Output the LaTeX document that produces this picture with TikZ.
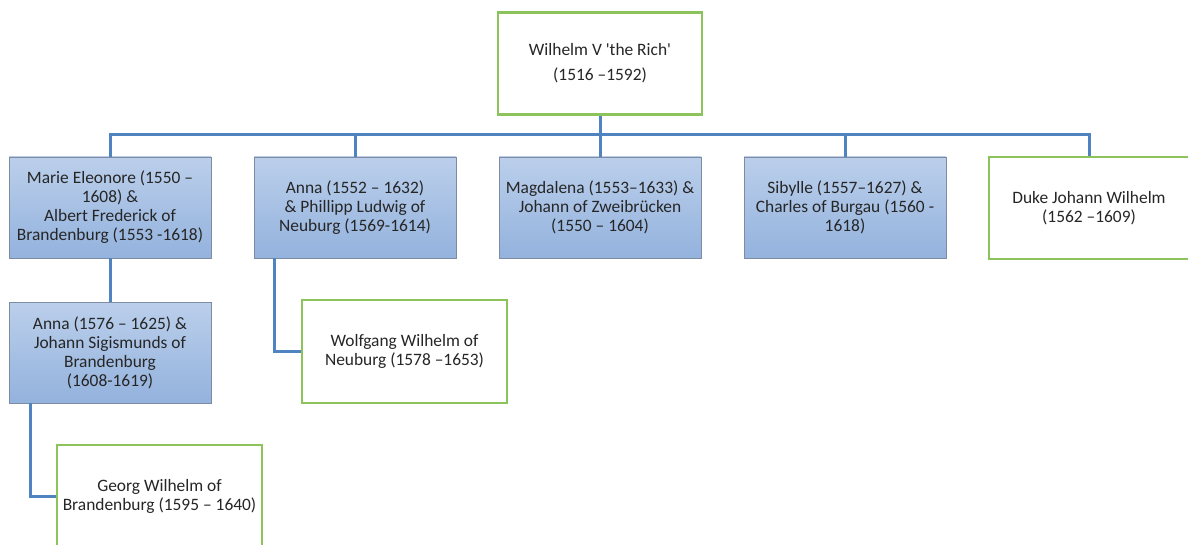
\documentclass[tikz,border=0pt]{standalone}
\usepackage{fontspec}
\setmainfont{Carlito}
\definecolor{bluetop}{HTML}{BBCFEB}
\definecolor{bluebot}{HTML}{93B2DD}
\definecolor{boxedge}{HTML}{7D8CA3}
\definecolor{grn}{HTML}{8CC35A}
\definecolor{lnk}{HTML}{4F84C0}
\definecolor{txt}{HTML}{262626}
\tikzset{
  basebox/.style={align=center, inner sep=0pt, text=txt,
    font=\fontsize{17.4}{19}\selectfont},
  bluebox/.style={basebox, draw=boxedge, line width=0.8pt,
    top color=bluetop, bottom color=bluebot,
    minimum width=202pt, minimum height=101pt},
  greenbox/.style={basebox, draw=grn, line width=2.2pt, fill=white,
    minimum width=204pt, minimum height=102pt},
  link/.style={draw=lnk, line width=3pt}
}
\begin{document}
\begin{tikzpicture}[x=1pt,y=-1pt]
\useasboundingbox (0,0) rectangle (1188,545);
\node[greenbox] (top) at (600,63.5) {Wilhelm V \textquotesingle the Rich\textquotesingle\\[6pt](1516 –1592)};
\node[bluebox] (b1) at (110,207.5) {Marie Eleonore (1550 –\\1608) \&\\Albert Frederick of\\Brandenburg (1553 -1618)};
\node[bluebox] (b2) at (355,207.5) {Anna (1552 – 1632)\\\& Phillipp Ludwig of\\Neuburg (1569-1614)};
\node[bluebox] (b3) at (600,207.5) {Magdalena (1553–1633) \&\\Johann of Zweibrücken\\(1550 – 1604)};
\node[bluebox] (b4) at (845,207.5) {Sibylle (1557–1627) \&\\Charles of Burgau (1560 -\\1618)};
\node[greenbox, minimum width=200pt] (b5) at (1089,208) {Duke Johann Wilhelm\\(1562 –1609)};
\node[bluebox] (c1) at (110,352.5) {Anna (1576 – 1625) \&\\Johann Sigismunds of\\Brandenburg\\(1608-1619)};
\node[greenbox, minimum width=205pt, minimum height=103pt] (c2) at (404.5,351.5) {Wolfgang Wilhelm of\\Neuburg (1578 –1653)};
\node[greenbox, minimum width=205pt] (g) at (159.5,496) {Georg Wilhelm of\\Brandenburg (1595 – 1640)};
\coordinate (bus) at (600,135);
\draw[link] (top.south) -- (bus);
\draw[link] (b1.north) |- (bus) -| (b5.north);
\draw[link] (b2.north) -- (b2.north |- bus);
\draw[link] (b3.north) -- (bus);
\draw[link] (b4.north) -- (b4.north |- bus);
\draw[link] (b1.south) -- (c1.north);
\draw[link] ([xshift=-80pt]c1.south) |- (g.west);
\draw[link] ([xshift=-81pt]b2.south) |- (c2.west);
\end{tikzpicture}
\end{document}
